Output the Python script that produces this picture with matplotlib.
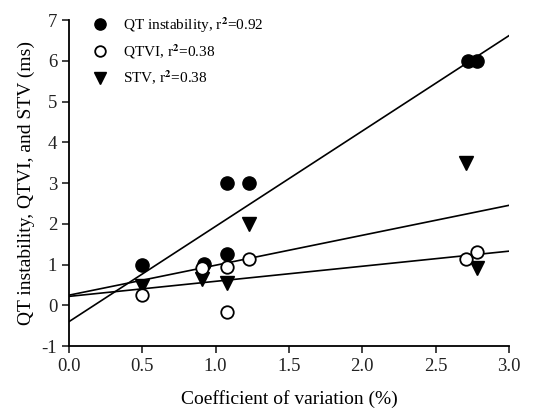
import matplotlib
matplotlib.use('Agg')
import matplotlib.pyplot as plt
import numpy as np

# --- datos ---
qt_x = [0.50, 0.92, 1.08, 1.08, 1.23, 2.72, 2.78]
qt_y = [1.00, 1.02, 1.25, 3.00, 3.00, 6.00, 6.00]

qtvi_x = [0.50, 0.91, 1.08, 1.08, 1.23, 2.71, 2.78]
qtvi_y = [0.25, 0.91, 0.94, -0.17, 1.13, 1.13, 1.32]

stv_x = [0.50, 0.91, 1.08, 1.23, 2.71, 2.78]
stv_y = [0.47, 0.64, 0.55, 2.00, 3.49, 0.91]

# regresiones (intercepto, pendiente)
qt_fit = (-0.40, 2.34)
qtvi_fit = (0.22, 0.37)
stv_fit = (0.25, 0.735)

x_ticks = [0.0, 0.5, 1.0, 1.5, 2.0, 2.5, 3.0]
y_ticks = [-1, 0, 1, 2, 3, 4, 5, 6, 7]

plt.rcParams['font.family'] = ['Liberation Serif', 'DejaVu Serif']
plt.rcParams['mathtext.fontset'] = 'stix'
plt.rcParams['axes.unicode_minus'] = False

fig = plt.figure(figsize=(5.52, 4.12), dpi=100)
ax = fig.add_axes([0.125, 0.160, 0.797, 0.791])

xx = np.array([0.0, 3.0])
for b0, b1 in (qt_fit, stv_fit, qtvi_fit):
    ax.plot(xx, b0 + b1 * xx, color='black', lw=1.2, zorder=1)

ax.plot(qt_x, qt_y, 'o', color='black', ms=9.5, ls='none', zorder=3,
        label='QT instability, r$^{\\mathbf{2}}$=0.92')
ax.plot(qtvi_x, qtvi_y, 'o', mfc='white', mec='black', mew=1.3, ms=9, ls='none',
        zorder=4, label='QTVI, r$^{\\mathbf{2}}$=0.38')
ax.plot(stv_x, stv_y, 'v', color='black', ms=9.5, ls='none', zorder=2,
        label='STV, r$^{\\mathbf{2}}$=0.38')

ax.set_xlim(0, 3.0)
ax.set_ylim(-1, 7)
ax.set_xticks(x_ticks)
ax.set_xticklabels([f'{t:.1f}' for t in x_ticks])
ax.set_yticks(y_ticks)
ax.tick_params(direction='out', length=5, width=1.2, labelsize=13.5, colors='#222222')
ax.spines['top'].set_visible(False)
ax.spines['right'].set_visible(False)
for s in ('left', 'bottom'):
    ax.spines[s].set_linewidth(1.3)

ax.set_xlabel('Coefficient of variation (%)', fontsize=14, labelpad=11)
ax.set_ylabel('QT instability, QTVI, and STV (ms)', fontsize=14, labelpad=5)

ax.legend(loc='upper left', bbox_to_anchor=(0.004, 1.058), frameon=False,
          fontsize=11, handletextpad=0.5, labelspacing=0.5, markerscale=0.85)

fig.savefig('out.png', dpi=100)
